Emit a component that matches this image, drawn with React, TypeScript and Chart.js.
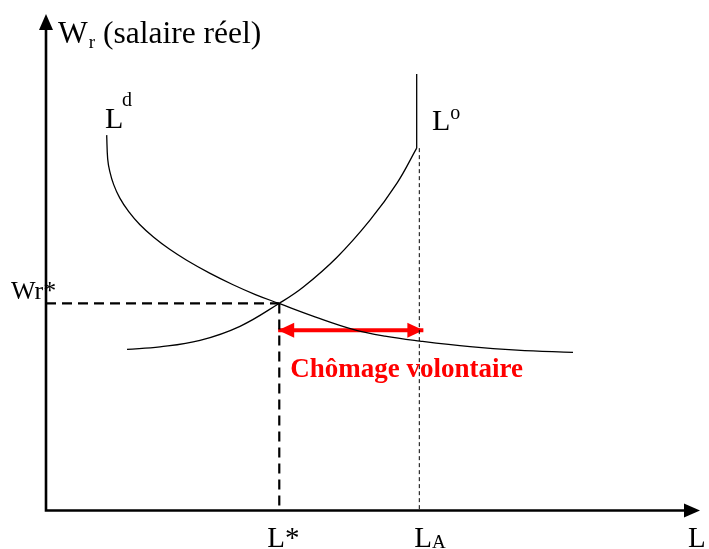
import React, { useEffect, useRef } from "react";
import { Chart, registerables } from "chart.js";

Chart.register(...registerables);

const LD_X = [9.28, 9.43, 9.74, 10.35, 11.27, 12.65, 14.33, 16.47, 18.91, 21.51, 25.02, 28.52, 32.02, 35.63, 41.13, 46.94, 51.83, 57.19, 64.83, 72.02, 80.58];
const LD_Y = [75.6, 70.83, 68.37, 65.63, 62.96, 60.18, 57.6, 55.02, 52.6, 50.4, 47.8, 45.52, 43.49, 41.7, 39.01, 36.49, 35.12, 34.13, 33.0, 32.3, 31.85];

// Labour supply curve Lo (curved part), then its vertical part
const LO_X = [12.39, 17.43, 23.55, 29.66, 35.63, 39.3, 44.5, 49.54, 53.67, 56.68];
const LO_Y = [32.46, 32.96, 34.27, 37.1, 41.7, 44.96, 51.01, 58.47, 65.93, 72.98];
const LO_VERT_X = [56.68, 56.68];
const LO_VERT_Y = [72.98, 87.9];

// Key values
const L_STAR = 35.67;
const L_A = 57.08;
const WR_STAR = 41.7;
const GAP_Y = 36.29;
const ARROW_FROM = 35.5;
const ARROW_TO = 57.7;

// Text labels
const Y_TITLE_MAIN = "W";
const Y_TITLE_SUB = "r";
const Y_TITLE_REST = " (salaire réel)";
const LD_LABEL = ["L", "d"];
const LO_LABEL = ["L", "o"];
const WR_LABEL = "Wr*";
const LSTAR_LABEL = "L*";
const LA_LABEL = ["L", "A"];
const X_TITLE = "L";
const GAP_LABEL = "Chômage volontaire";

const SERIF = '"Liberation Serif", "Times New Roman", serif';

const pts = (xs: number[], ys: number[]) => xs.map((x, i) => ({ x, y: ys[i] }));

const overlay = {
  id: "overlay",
  beforeDatasetsDraw(chart: any) {
    const ctx = chart.ctx;
    const xs = chart.scales.x;
    const ys = chart.scales.y;
    // red arrowheads
    const y = ys.getPixelForValue(GAP_Y);
    const a = xs.getPixelForValue(ARROW_FROM);
    const b = xs.getPixelForValue(ARROW_TO);
    ctx.save();
    ctx.fillStyle = "#ff0000";
    ctx.beginPath();
    ctx.moveTo(a, y);
    ctx.lineTo(a + 16, y - 7.5);
    ctx.lineTo(a + 16, y + 7.5);
    ctx.closePath();
    ctx.fill();
    ctx.beginPath();
    ctx.moveTo(b, y);
    ctx.lineTo(b - 16, y - 7.5);
    ctx.lineTo(b - 16, y + 7.5);
    ctx.closePath();
    ctx.fill();
    ctx.restore();
  },
  afterDatasetsDraw(chart: any) {
    const ctx = chart.ctx;
    const xs = chart.scales.x;
    const ys = chart.scales.y;
    const x0 = xs.getPixelForValue(0);
    const y0 = ys.getPixelForValue(0);
    const xMax = xs.getPixelForValue(100);
    const yMax = ys.getPixelForValue(100);
    ctx.save();
    // axes
    ctx.strokeStyle = "#000";
    ctx.fillStyle = "#000";
    ctx.lineWidth = 2.6;
    ctx.beginPath();
    ctx.moveTo(x0, y0 + 1.3);
    ctx.lineTo(x0, yMax + 14);
    ctx.moveTo(x0 - 1.3, y0);
    ctx.lineTo(xMax - 14, y0);
    ctx.stroke();
    ctx.beginPath();
    ctx.moveTo(x0, yMax);
    ctx.lineTo(x0 - 7, yMax + 16);
    ctx.lineTo(x0 + 7, yMax + 16);
    ctx.closePath();
    ctx.fill();
    ctx.beginPath();
    ctx.moveTo(xMax, y0);
    ctx.lineTo(xMax - 16, y0 - 7);
    ctx.lineTo(xMax - 16, y0 + 7);
    ctx.closePath();
    ctx.fill();

    // texts
    ctx.textBaseline = "alphabetic";
    ctx.textAlign = "left";
    const big = `31.5px ${SERIF}`;
    const mid = `29px ${SERIF}`;
    const lab = `30px ${SERIF}`;
    const small = `19px ${SERIF}`;

    // y title
    let tx = x0 + 12;
    ctx.font = big;
    ctx.fillText(Y_TITLE_MAIN, tx, 43);
    tx += ctx.measureText(Y_TITLE_MAIN).width;
    ctx.font = small;
    ctx.fillText(Y_TITLE_SUB, tx + 1, 48);
    tx += ctx.measureText(Y_TITLE_SUB).width + 1;
    ctx.font = big;
    ctx.fillText(Y_TITLE_REST, tx, 43);

    // Ld
    ctx.font = lab;
    ctx.fillText(LD_LABEL[0], 105, 128);
    ctx.font = `20px ${SERIF}`;
    ctx.fillText(LD_LABEL[1], 122, 106);

    // Lo
    ctx.font = lab;
    ctx.fillText(LO_LABEL[0], 432, 130);
    const low = ctx.measureText(LO_LABEL[0]).width;
    ctx.font = `20px ${SERIF}`;
    ctx.fillText(LO_LABEL[1], 432 + low, 119);

    // Wr*
    ctx.font = `26px ${SERIF}`;
    ctx.fillText(WR_LABEL, 11, ys.getPixelForValue(WR_STAR) - 4);

    // bottom labels
    ctx.font = mid;
    ctx.textAlign = "center";
    ctx.fillText(LSTAR_LABEL, xs.getPixelForValue(L_STAR) + 4, 547);
    ctx.textAlign = "left";
    const lax = xs.getPixelForValue(L_A) - 5;
    ctx.fillText(LA_LABEL[0], lax, 547);
    const lw = ctx.measureText(LA_LABEL[0]).width;
    ctx.font = small;
    ctx.fillText(LA_LABEL[1], lax + lw, 548);
    ctx.font = mid;
    ctx.fillText(X_TITLE, 688, 547);

    // gap label
    ctx.font = `bold 27px ${SERIF}`;
    ctx.fillStyle = "#ff0000";
    ctx.fillText(GAP_LABEL, xs.getPixelForValue(L_STAR) + 11, 377);
    ctx.restore();
  },
};

export default function App() {
  const ref = useRef<HTMLCanvasElement | null>(null);
  useEffect(() => {
    if (!ref.current) return;
    const black = "#000000";
    const chart = new Chart(ref.current, {
      type: "line",
      data: {
        datasets: [
          {
            label: "Ld",
            data: pts(LD_X, LD_Y),
            borderColor: black,
            borderWidth: 1.3,
            tension: 0.4,
            pointRadius: 0,
            fill: false,
          },
          {
            label: "Lo",
            data: pts(LO_X, LO_Y),
            borderColor: black,
            borderWidth: 1.3,
            tension: 0.4,
            pointRadius: 0,
            fill: false,
          },
          {
            label: "Lo vertical",
            data: pts(LO_VERT_X, LO_VERT_Y),
            borderColor: black,
            borderWidth: 1.3,
            tension: 0,
            pointRadius: 0,
            fill: false,
          },
          {
            label: "Wr* line",
            data: [
              { x: 0, y: WR_STAR },
              { x: L_STAR, y: WR_STAR },
            ],
            borderColor: black,
            borderWidth: 2.2,
            borderDash: [10, 6],
            pointRadius: 0,
            fill: false,
          },
          {
            label: "L* line",
            data: [
              { x: L_STAR, y: WR_STAR },
              { x: L_STAR, y: 0 },
            ],
            borderColor: black,
            borderWidth: 2.2,
            borderDash: [10, 6],
            pointRadius: 0,
            fill: false,
          },
          {
            label: "LA line",
            data: [
              { x: L_A, y: LO_Y[LO_Y.length - 1] },
              { x: L_A, y: 0 },
            ],
            borderColor: black,
            borderWidth: 1,
            borderDash: [4, 3],
            pointRadius: 0,
            fill: false,
          },
          {
            label: "gap",
            data: [
              { x: ARROW_FROM, y: GAP_Y },
              { x: ARROW_TO, y: GAP_Y },
            ],
            borderColor: "#ff0000",
            borderWidth: 4,
            pointRadius: 0,
            fill: false,
          },
        ],
      },
      options: {
        responsive: false,
        animation: false,
        events: [],
        layout: { padding: { left: 46, right: 9, top: 14, bottom: 38.5 } },
        plugins: { legend: { display: false }, tooltip: { enabled: false } },
        scales: {
          x: { type: "linear", min: 0, max: 100, display: false },
          y: { type: "linear", min: 0, max: 100, display: false },
        },
      },
      plugins: [overlay],
    } as any);
    return () => chart.destroy();
  }, []);
  return (
    <div style={{ position: "absolute", left: 0, top: 0, width: 709, height: 549, background: "#fff" }}>
      <canvas ref={ref} width={709} height={549} style={{ width: 709, height: 549, display: "block" }} />
    </div>
  );
}
